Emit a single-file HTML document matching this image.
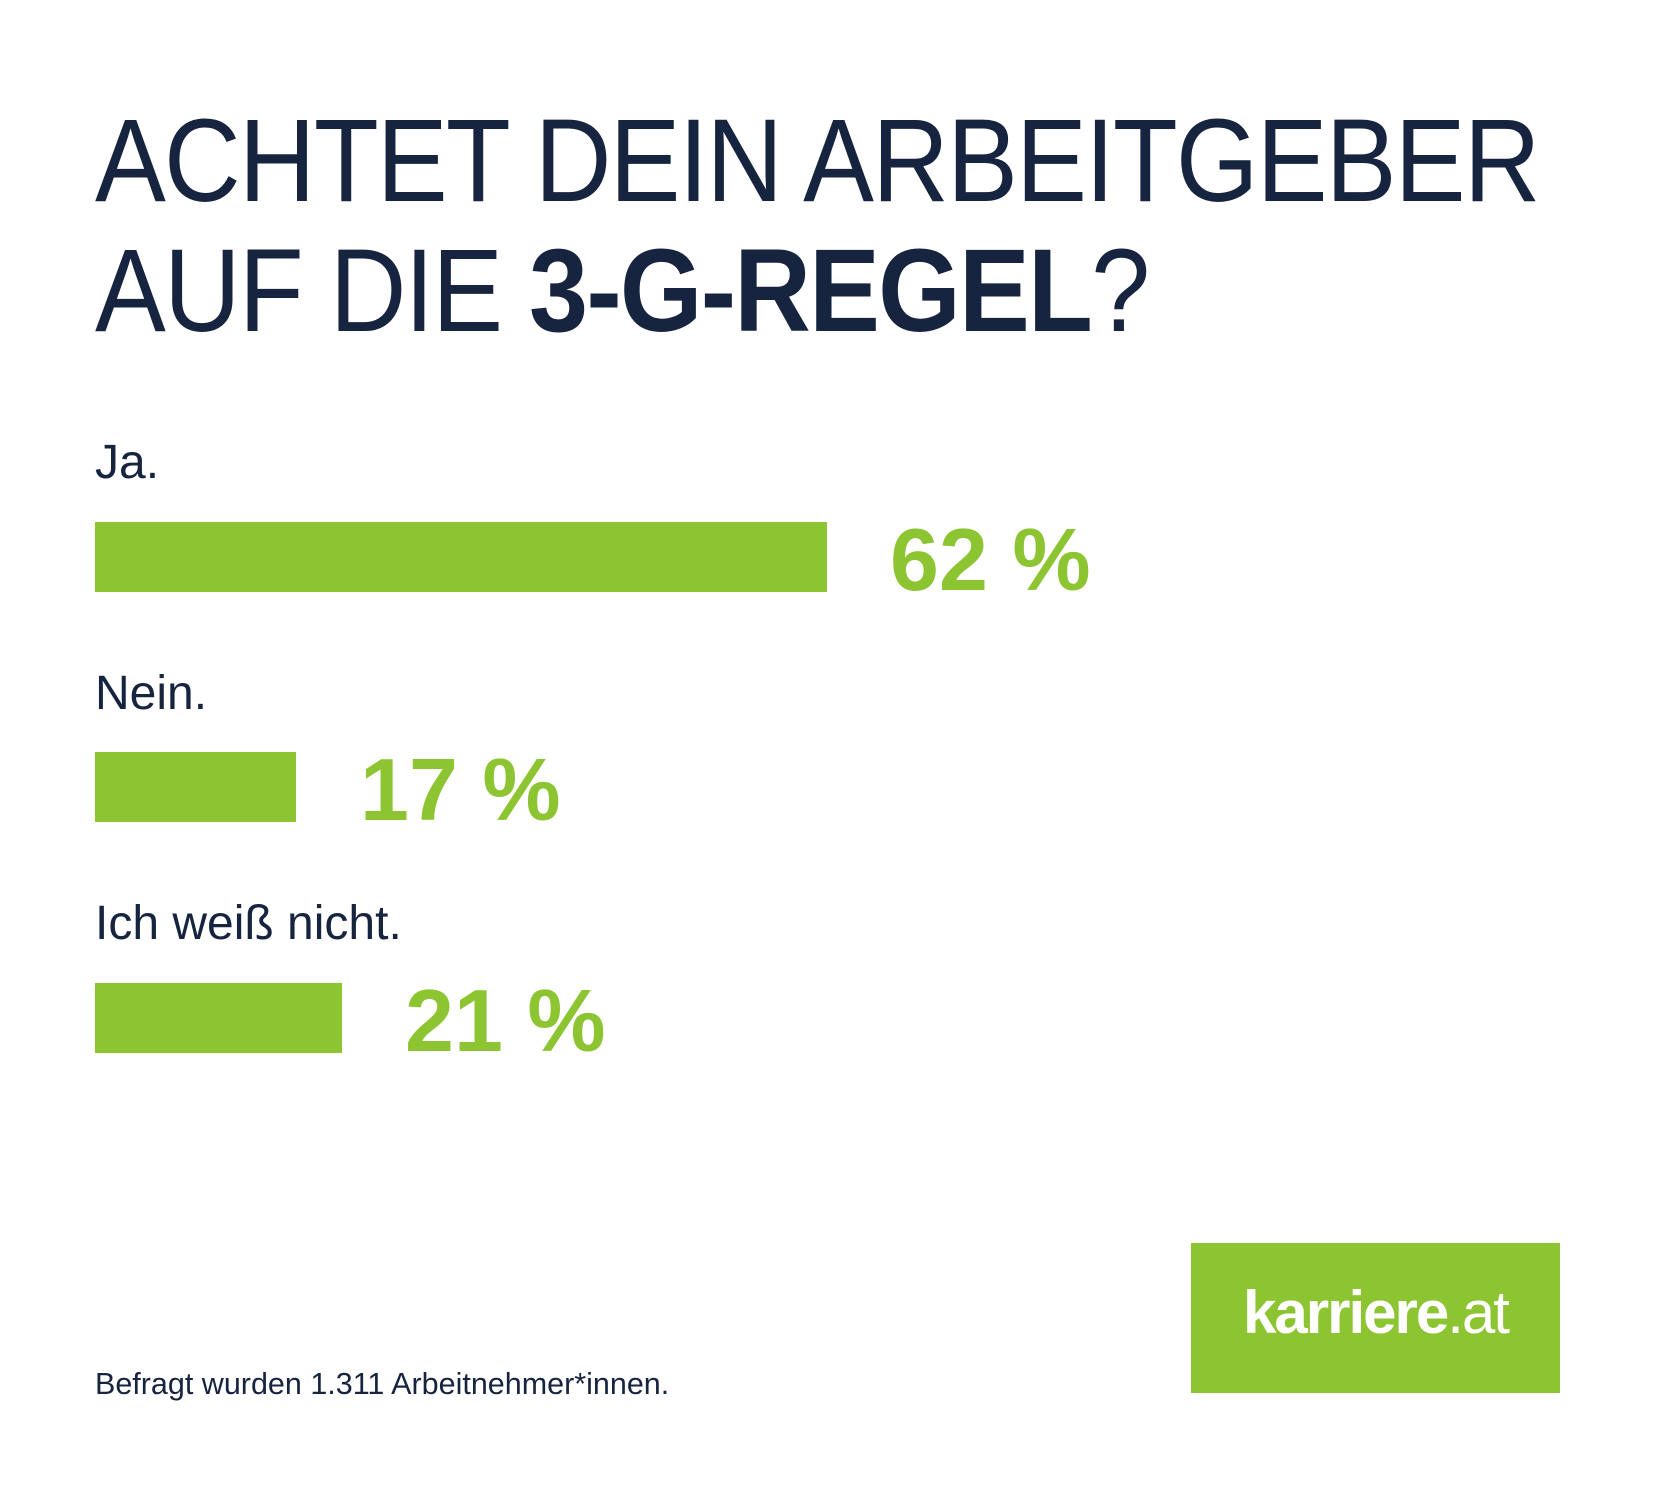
<!DOCTYPE html>
<html><head><meta charset="utf-8"><style>
body{margin:0;width:1654px;height:1488px;background:#fff;position:relative;overflow:hidden;font-family:"Liberation Sans",sans-serif;color:#17243f}
.a{position:absolute;white-space:nowrap}
.t{font-size:118px;left:95px;letter-spacing:-2px;line-height:1;transform:scaleX(0.9);transform-origin:0 0}
.l{font-size:48px;left:95px;line-height:1}
.bar{position:absolute;left:95px;background:#8cc531;height:70px}
.p{font-size:88px;font-weight:bold;color:#8cc531;line-height:1}
</style></head><body>
<div class="a t" style="top:102px">ACHTET DEIN ARBEITGEBER</div>
<div class="a t" style="top:232px">AUF DIE <b>3-G-REGEL</b>?</div>
<div class="a l" style="top:439px">Ja.</div>
<div class="bar" style="top:522px;width:732px"></div>
<div class="a p" style="left:890px;top:516px">62 %</div>
<div class="a l" style="top:670px">Nein.</div>
<div class="bar" style="top:752px;width:201px"></div>
<div class="a p" style="left:360px;top:746px">17 %</div>
<div class="a l" style="top:900px">Ich weiß nicht.</div>
<div class="bar" style="top:983px;width:247px"></div>
<div class="a p" style="left:405px;top:977px">21 %</div>
<div class="a" style="left:95px;top:1367px;font-size:30.5px">Befragt wurden 1.311 Arbeitnehmer*innen.</div>
<div class="a" style="left:1191px;top:1243px;width:369px;height:150px;background:#8cc531"></div>
<div class="a" style="left:1191px;top:1283px;width:369px;text-align:center;color:#fff;font-weight:bold;font-size:60px;letter-spacing:-2px;line-height:1">karriere<span style="font-weight:normal">.at</span></div>
</body></html>
